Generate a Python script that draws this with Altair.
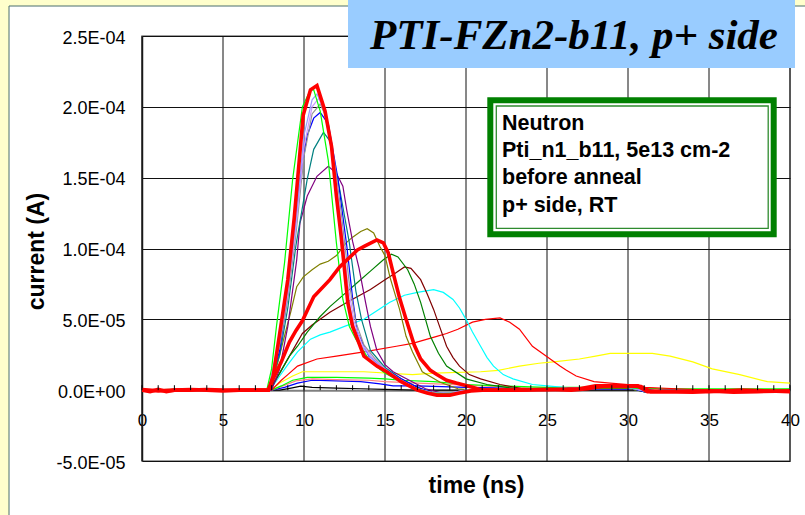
import altair as alt
import pandas as pd

# ---------------- axis / text content ----------------
x_ticks = [0, 5, 10, 15, 20, 25, 30, 35, 40]
minor_ticks = list(range(0, 41))
y_ticks = [-5e-5, 0.0, 5e-5, 1e-4, 1.5e-4, 2e-4, 2.5e-4]
y_tick_labels = ["-5.0E-05", "0.0E+00", "5.0E-05", "1.0E-04", "1.5E-04", "2.0E-04", "2.5E-04"]
x_title = "time (ns)"
y_title = "current (A)"
title_text = "PTI-FZn2-b11, p+ side"
note_lines = ["Neutron", "Pti_n1_b11, 5e13 cm-2", "before anneal", "p+ side, RT"]

# ---------------- series: time (ns) and current (uA) ----------------
t_black = [0, 8.5, 9.2, 9.8, 10.5, 12.0, 13.5, 15.0, 17, 40]
i_black = [0, 0, 1.5, 2.8, 2, 1.5, 1, 0.5, 0, 0]

t_blue_low = [0, 8.0, 8.8, 9.6, 10.5, 12.0, 13.5, 14.7, 15.5, 17.0, 20.0, 25.0, 40]
i_blue_low = [0, 0, 2, 5, 7, 6.5, 6, 4.5, 3, 3, 2, 1, 0]

t_salmon = [0, 8.0, 8.7, 9.5, 10.5, 12.0, 14.0, 15.0, 17.0, 20.0, 23.0, 26.0, 29, 30.5, 32, 40]
i_salmon = [0, 0, 3, 6.5, 8, 7.5, 7, 6, 5, 3.5, 2, 1, 2.5, 2.5, 0, 0]

t_green_low = [0, 8.0, 8.6, 9.3, 10.2, 12.0, 14.0, 15.0, 16.0, 18.0, 20.0, 22.0, 25.0, 28.0, 30.0, 32.0, 40]
i_green_low = [0, 0, 3, 7, 9, 9, 8.5, 8, 7, 6, 4, 3, 2, 2, 2, 1, 1]

t_yellow = [0, 7.9, 8.5, 9.3, 9.9, 10.6, 13.7, 16.7, 18.0, 20.9, 22.0, 23.3, 24.5, 25.4, 27.0, 28.0,
            28.9, 30.0, 31.5, 32.6, 34.0, 35.2, 36.9, 38.6, 40]
i_yellow = [0, 0, 5, 10, 13, 13, 13, 11, 12, 13, 14, 17, 19, 20, 22, 24,
            26, 26, 26, 24, 20, 15, 11, 6, 5]

t_red_thin = [0, 8.0, 8.6, 9.0, 9.6, 10.8, 12.0, 13.7, 15.7, 16.7, 18.2, 18.8, 19.5, 20.4, 21.2, 22.1,
              22.7, 23.3, 24.1, 25.2, 25.8, 26.2, 26.8, 27.9, 28.9, 30.0, 31.0, 33, 35, 40]
i_red_thin = [0, 0, 7, 11, 17, 22, 24, 27, 31, 33, 38, 40, 43, 48, 50, 51,
              48, 43, 31, 22, 17, 14, 10, 6, 5, 4, 2, 1, 0, 0]

t_cyan = [0, 7.9, 8.5, 9.0, 9.6, 10.4, 11.0, 11.6, 12.5, 13.7, 14.5, 15.3, 16.2, 17.0, 18.0, 18.6,
          19.2, 19.6, 20.0, 20.4, 20.9, 21.3, 21.7, 22.3, 22.9, 24.1, 25, 27, 30, 31, 40]
i_cyan = [0, 0, 10, 18, 27, 36, 39, 41, 45, 50, 56, 62, 67, 69, 71, 69,
          64, 58, 50, 41, 31, 23, 17, 11, 8, 4, 3, 1, 1.5, -1, 0]

t_brown = [0, 7.9, 8.5, 9.1, 9.9, 10.5, 11.6, 12.8, 14.1, 15.0, 15.7, 16.2, 16.6, 17.2, 17.6, 18.0,
           18.4, 18.8, 19.2, 19.6, 20.2, 20.9, 22.1, 23.5, 25, 28, 30, 31, 40]
i_brown = [0, 0, 12, 24, 40, 46, 55, 63, 71, 78, 83, 87, 86, 78, 68, 57,
           44, 31, 23, 17, 11, 8, 4, 1, 0, 1.5, 1.5, -1, 0]

t_dkgreen = [0, 7.8, 8.5, 9.1, 9.6, 10.2, 11.0, 11.6, 12.5, 13.3, 14.1, 14.9, 15.4, 15.8, 16.4, 16.8,
             17.2, 17.8, 18.3, 18.8, 20.0, 21.3, 22.5, 24, 28, 30, 31, 40]
i_dkgreen = [0, 0, 12, 24, 31, 41, 52, 59, 68, 76, 84, 92, 96, 94, 85, 75,
             62, 38, 26, 17, 8, 4, 2, 0, 1.5, 1.5, -1, 0]

t_olive = [0, 7.8, 8.3, 8.7, 9.2, 9.55, 9.96, 10.5, 11.0, 11.5, 12.0, 12.6, 13.0, 13.5, 13.9, 14.3,
           14.7, 15.0, 15.3, 15.9, 16.3, 16.7, 17.3, 18.4, 19.5, 20.5, 24, 28, 30, 31, 40]
i_olive = [0, 0, 16, 34, 56, 73, 80, 85, 89, 91, 95, 104, 108, 112, 114, 111,
           101, 95, 80, 57, 38, 27, 13, 5.6, 1, 0, 0, 1.5, 1.5, -1, 0]

t_purple = [0, 8.0, 8.5, 9.0, 9.55, 9.75, 10.2, 10.8, 11.5, 12.0, 12.4, 12.64, 13.0, 13.4, 13.8, 14.1,
            14.5, 15.0, 15.5, 16.5, 17.5, 18.5, 19.5, 20.5, 24, 28, 30, 31, 40]
i_purple = [0, 0, 15, 45, 92, 118, 137, 151, 158, 153, 144, 127, 105, 86, 62, 45,
            28, 18, 13, 7, 1, -2, -2, 0, 0, 2, 2, -1, 0]

t_teal = [0, 7.8, 8.5, 9.0, 9.5, 10.2, 10.6, 11.2, 11.6, 12.2, 12.8, 13.2, 13.55, 14.1, 15.0, 16.0,
          17.0, 18.0, 19.0, 20.0, 24, 28, 30, 31, 40]
i_teal = [0, 0, 25, 58, 102, 149, 170, 182, 176, 142, 104, 70, 50, 28, 16, 8,
          2, -2, -2.5, -0.5, 0, 2, 2, -1, 0]

t_blue = [0, 7.8, 8.5, 9.0, 9.5, 9.75, 10.2, 10.6, 11.0, 11.5, 12.1, 12.65, 13.0, 13.3, 14.0, 15.0,
          16.0, 17.0, 18.0, 19.0, 20.0, 24, 28, 30, 31, 35, 40]
i_blue = [0, 0, 28, 68, 122, 149, 180, 192, 196, 188, 149, 101, 65, 41, 24, 15,
          8, 2, -2, -2.5, -0.5, 0, 2, 2, -1, -1, 0]

t_gray = [0, 7.8, 8.5, 9.0, 9.5, 10.0, 10.5, 11.0, 11.4, 11.9, 12.3, 12.8, 13.2, 13.7, 14.4, 15.0,
          16.0, 17.0, 18.0, 19.0, 20.0, 24, 28, 30, 31, 40]
i_gray = [0, 0, 32, 64, 110, 165, 195, 202, 192, 160, 125, 75, 48, 32, 22, 15,
          7, 1, -2, -2, 0, 0, 2, 2, -0.5, 0]

t_lilac = [0, 7.8, 8.5, 9.0, 9.5, 10.0, 10.5, 10.9, 11.3, 11.8, 12.2, 12.7, 13.1, 13.6, 14.3, 15.0,
           16.0, 17.0, 18.0, 19.0, 20.0, 24, 28, 30, 31, 40]
i_lilac = [0, 0, 35, 68, 115, 172, 200, 206, 196, 165, 128, 75, 48, 32, 22, 15,
           7, 1, -2, -2, 0, 0, 2, 2, -0.5, 0]

t_lavender = [0, 7.8, 8.5, 9.0, 9.5, 10.0, 10.5, 10.8, 11.2, 11.7, 12.1, 12.6, 13.0, 13.5, 14.2, 15.0,
              16.0, 17.0, 18.0, 19.0, 20.0, 24, 28, 30, 31, 40]
i_lavender = [0, 0, 38, 72, 120, 180, 205, 209, 200, 170, 130, 75, 48, 32, 22, 14,
              7, 1, -2, -2, 0, 0, 2, 2, -0.5, 0]

t_green_fast = [0, 2, 4, 6, 7.7, 8.0, 8.3, 8.8, 9.3, 9.9, 10.4, 10.6, 11.0, 11.5, 12.0, 12.4,
                12.8, 13.2, 14.1, 15.0, 16.0, 17.0, 17.8, 18.6, 19.4, 20.2, 22, 25, 27, 28, 30,
                30.8, 31.5, 34, 37, 40]
i_green_fast = [0, 0.5, 0, -0.5, 0, 15, 45, 90, 149, 200, 212, 212, 197, 162, 104, 64,
                45, 36, 20, 12, 6, 1, -2, -2.5, -2, 0, 0.5, 0, 0.5, 2, 2,
                1, -0.5, -0.5, 0, 0.5]

t_red_slow = [0, 1, 2, 3, 4, 5, 6, 7, 7.8, 8.1, 8.6, 9.1, 9.5, 9.9, 10.6, 11.6, 12.2, 13.3, 13.8,
              14.5, 14.9, 15.2, 15.5, 15.9, 16.3, 16.8, 17.2, 17.8, 18.2, 18.8, 19.4, 20.4, 21,
              23, 25, 27, 28, 30, 30.6, 31.2, 33, 35, 37, 40]
i_red_slow = [0.5, -0.5, 0, 0.5, 0, -0.5, 0, 0, 0, 8, 20, 34, 42, 49, 66, 78, 87, 99, 102,
              106, 104, 97, 83, 65, 50, 32, 22, 14, 11, 7, 5, 2, 0,
              0, 0.5, 1, 3, 3, 3, -1, -1, -1, 0, -1]

t_red_fast = [0, 0.5, 1, 1.5, 2, 3, 4, 5, 6, 7, 7.8, 8.1, 8.5, 9.0, 9.4, 9.95, 10.4, 10.8, 11.3,
              11.7, 12.0, 12.3, 12.7, 13.0, 13.7, 14.5, 15.1, 16.0, 17.0, 17.6, 18.2, 19.0, 19.6,
              20.3, 21, 23, 25, 26.5, 27.5, 28.5, 30.3, 30.8, 31.4, 33, 34, 35, 36.5, 38, 40]
i_red_fast = [0, -1, 0.5, -1, 0, 0, 0.5, 0, 0, 0, 0, 10, 40, 78, 122, 194, 212, 215, 197,
              172, 137, 108, 62, 45, 24, 17, 13, 6, 0, -2, -3.5, -3.5, -2,
              -0.5, 0, 0, 0.5, 0, 1, 3, 3, 2.5, -1, -1, -1.5, -0.5, -1.5, -1, -0.5]

series = [
    ("black", t_black, i_black),
    ("blue_low", t_blue_low, i_blue_low),
    ("salmon", t_salmon, i_salmon),
    ("green_low", t_green_low, i_green_low),
    ("yellow", t_yellow, i_yellow),
    ("red_thin", t_red_thin, i_red_thin),
    ("cyan", t_cyan, i_cyan),
    ("brown", t_brown, i_brown),
    ("dkgreen", t_dkgreen, i_dkgreen),
    ("olive", t_olive, i_olive),
    ("purple", t_purple, i_purple),
    ("teal", t_teal, i_teal),
    ("blue", t_blue, i_blue),
    ("gray", t_gray, i_gray),
    ("lilac", t_lilac, i_lilac),
    ("lavender", t_lavender, i_lavender),
    ("green_fast", t_green_fast, i_green_fast),
    ("red_slow", t_red_slow, i_red_slow),
    ("red_fast", t_red_fast, i_red_fast),
]

# ---------------- styles ----------------
series_colors = {
    "black": "#000000", "blue_low": "#0000FF", "salmon": "#FF8080", "green_low": "#00FF00",
    "yellow": "#FFFF00", "red_thin": "#FF0000", "cyan": "#00FFFF", "brown": "#800000",
    "dkgreen": "#008000", "olive": "#808000", "purple": "#800080", "teal": "#008080",
    "blue": "#0000FF", "gray": "#969696", "lilac": "#CC99FF", "lavender": "#9999FF",
    "green_fast": "#00FF00", "red_slow": "#FF0000", "red_fast": "#FF0000",
}
thick_series = ["red_slow", "red_fast"]

rows = []
for k, (name, ts, vs) in enumerate(series):
    for t, v in zip(ts, vs):
        rows.append({"series": name, "order": k, "t": t, "current": v * 1e-6})
df = pd.DataFrame(rows)

names = [s[0] for s in series]
color_scale = alt.Scale(domain=names, range=[series_colors[n] for n in names])

W, H = 648, 425
FONT = "Liberation Sans"

label_expr = "''"
for v, lab in zip(y_ticks, y_tick_labels):
    label_expr = f"abs(datum.value - ({v})) < 1e-9 ? '{lab}' : ({label_expr})"

x_scale = alt.Scale(domain=[0, 40], nice=False)
y_scale = alt.Scale(domain=[-5e-5, 2.5e-4], nice=False, zero=False)

x_axis = alt.Axis(values=x_ticks, format="d", grid=False, offset=-H / 6, ticks=False, tickSize=0,
                  domainColor="#808080", domainWidth=2,
                  labelFont=FONT, labelFontSize=17, labelColor="black", labelPadding=35,
                  labelBaseline="alphabetic", labelFlush=False,
                  title=x_title, titleFont=FONT, titleFontSize=23, titleFontWeight="bold",
                  titleColor="black", titleX=334, titleY=102, titleAlign="center",
                  titleBaseline="alphabetic")
y_axis = alt.Axis(values=y_ticks, labelExpr=label_expr, grid=True, gridColor="#111111", gridWidth=1,
                  ticks=False, domainColor="#222222", domainWidth=1.5,
                  labelFont=FONT, labelFontSize=18, labelColor="black", labelPadding=17,
                  labelBaseline="alphabetic", labelOffset=7, labelFlush=False,
                  title=y_title, titleFont=FONT, titleFontSize=23, titleFontWeight="bold",
                  titleColor="black", titleAngle=270, titleX=-99, titleY=215, titleAlign="center",
                  titleBaseline="alphabetic")

one = pd.DataFrame({"k": [0]})


def box(x1, x2, y1, y2, **kw):
    return alt.Chart(one).mark_rect(**kw).encode(
        x=alt.value(x1), x2=alt.value(x2), y=alt.value(y1), y2=alt.value(y2))


# frame decorations (outside plot area)
yellow_top = box(-142, 700, -36, -30, fill="#FFFFCC")
yellow_left = box(-142, -133, -36, 500, fill="#FFFFCC")
frame = box(-133, 700, -30, 520, fillOpacity=0, stroke="#4A6E6E", strokeWidth=1)

# vertical grid lines
vgrid = alt.Chart(pd.DataFrame({"gx": x_ticks})).mark_rule(color="#111111", strokeWidth=1).encode(
    x=alt.X("gx:Q", scale=x_scale, axis=x_axis), y=alt.value(0), y2=alt.value(H))

# minor ticks on the zero line
mt = pd.DataFrame({"t": minor_ticks, "y0": [0.0] * len(minor_ticks), "y1": [3.5e-6] * len(minor_ticks)})
minor = alt.Chart(mt).mark_rule(color="black", strokeWidth=1).encode(
    x=alt.X("t:Q", scale=x_scale, axis=x_axis),
    y=alt.Y("y0:Q", scale=y_scale, axis=y_axis), y2="y1:Q")

base = alt.Chart(df).encode(
    x=alt.X("t:Q", scale=x_scale, axis=x_axis),
    y=alt.Y("current:Q", scale=y_scale, axis=y_axis),
    color=alt.Color("series:N", scale=color_scale, legend=None),
    detail="series:N",
    order=alt.Order("t:Q"),
)
thin_lines = base.transform_filter(
    alt.FieldOneOfPredicate(field="series", oneOf=[n for n in names if n not in thick_series])
).mark_line(strokeWidth=1.2, clip=True)
thick_lines = base.transform_filter(
    alt.FieldOneOfPredicate(field="series", oneOf=thick_series)
).mark_line(strokeWidth=3.6, clip=True)

# title box
title_box = box(206, 653, -36, 32, fill="#99CCFF")
title_mark = alt.Chart(one).mark_text(
    text=title_text, font="Liberation Serif", fontSize=43, fontWeight="bold", fontStyle="italic",
    align="center", baseline="alphabetic", color="black"
).encode(x=alt.value(432), y=alt.value(12.5))

# note box
note_outer = box(348.3, 631.7, 64.3, 198.3, fill="white", stroke="#008000", strokeWidth=6)
note_inner = box(354.3, 626.2, 70, 192.3, fillOpacity=0, stroke="#2E8B2E", strokeWidth=1.3)
note_texts = []
for k, line in enumerate(note_lines):
    note_texts.append(
        alt.Chart(one).mark_text(
            text=line, font=FONT, fontSize=21.5, fontWeight="bold", align="left",
            baseline="alphabetic", color="black"
        ).encode(x=alt.value(360), y=alt.value(93.5 + 27.4 * k))
    )

chart = alt.layer(
    yellow_top, yellow_left, frame, vgrid, thin_lines, thick_lines, minor,
    title_box, title_mark, note_outer, note_inner, *note_texts
).properties(
    width=W, height=H,
    autosize=alt.AutoSizeParams(type="none"),
    padding={"left": 142, "top": 36, "right": 15, "bottom": 54},
    background="white",
).configure_view(stroke="#808080", strokeWidth=1.5)

chart.save("out.html", embed_options={"renderer": "svg", "actions": False})
